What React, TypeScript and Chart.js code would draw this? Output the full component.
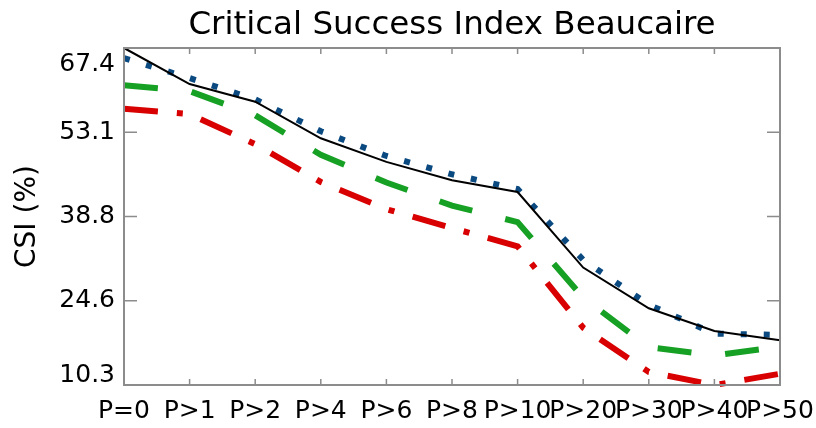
import React, { useEffect, useRef } from "react";
import { Chart, registerables } from "chart.js";

Chart.register(...registerables);

const categories = ["P=0", "P>1", "P>2", "P>4", "P>6", "P>8", "P>10", "P>20", "P>30", "P>40", "P>50"];
const seriesBlack = [67.4, 61.3, 58.3, 52.1, 48.1, 45.0, 43.0, 30.2, 23.3, 19.45, 17.9];
const seriesBlue = [65.7, 62.3, 58.7, 53.3, 49.1, 46.0, 43.5, 31.5, 23.9, 19.0, 18.8];
const seriesGreen = [61.1, 60.1, 56.0, 49.3, 44.6, 40.7, 37.9, 25.1, 16.7, 15.3, 16.8];
const seriesRed = [57.1, 56.2, 51.1, 44.7, 40.1, 36.9, 33.8, 20.0, 12.5, 10.3, 12.2];
const yTickValues = [10.3, 24.575, 38.85, 53.125, 67.4];
const yTickLabels = ["10.3", "24.6", "38.8", "53.1", "67.4"];
const yMin = 10.3;
const yMax = 67.4;
const titleText = "Critical Success Index Beaucaire";
const yTitleText = "CSI (%)";

const FONT = "DejaVu Sans";
const AXIS_COLOR = "#8c8c8c";

const framePlugin = {
  id: "frame",
  beforeDraw(chart: any) {
    const ys = chart.scales.y;
    const items = ys.getLabelItems();
    items.forEach((it: any) => {
      if (it._shifted) return;
      if (it.label === yTickLabels[yTickLabels.length - 1]) it.options.translation[1] += 16;
      if (it.label === yTickLabels[0]) it.options.translation[1] -= 10;
      it._shifted = true;
    });
  },
  afterDraw(chart: any) {
    const { ctx, chartArea: a } = chart;
    const xs = chart.scales.x;
    const ys = chart.scales.y;
    ctx.save();
    ctx.strokeStyle = AXIS_COLOR;
    ctx.lineWidth = 2;
    ctx.strokeRect(a.left, a.top, a.right - a.left, a.bottom - a.top);
    ctx.lineWidth = 1.5;
    ctx.beginPath();
    ys.ticks.forEach((_t: any, i: number) => {
      const py = ys.getPixelForTick(i);
      ctx.moveTo(a.left, py);
      ctx.lineTo(a.left + 13, py);
      ctx.moveTo(a.right, py);
      ctx.lineTo(a.right - 13, py);
    });
    xs.ticks.forEach((_t: any, i: number) => {
      const px = xs.getPixelForTick(i);
      ctx.moveTo(px, a.bottom);
      ctx.lineTo(px, a.bottom - 6);
      ctx.moveTo(px, a.top);
      ctx.lineTo(px, a.top + 6);
    });
    ctx.stroke();
    ctx.restore();
  },
};

export default function App() {
  const ref = useRef<HTMLCanvasElement | null>(null);

  useEffect(() => {
    if (!ref.current) return;
    const chart = new Chart(ref.current, {
      type: "line",
      data: {
        labels: categories,
        datasets: [
          {
            label: "black",
            data: seriesBlack,
            borderColor: "#000000",
            borderWidth: 2,
            pointRadius: 0,
            tension: 0,
            order: 0,
          },
          {
            label: "blue",
            data: seriesBlue,
            borderColor: "#0b4a80",
            borderWidth: 6,
            borderDash: [6, 17],
            pointRadius: 0,
            tension: 0,
            order: 1,
          },
          {
            label: "green",
            data: seriesGreen,
            borderColor: "#16a024",
            borderWidth: 6,
            borderDash: [34, 34],
            pointRadius: 0,
            tension: 0,
            order: 2,
          },
          {
            label: "red",
            data: seriesRed,
            borderColor: "#d80000",
            borderWidth: 6,
            borderDash: [34, 19, 6, 19],
            pointRadius: 0,
            tension: 0,
            order: 3,
          },
        ] as any,
      },
      options: {
        animation: false,
        responsive: false,
        devicePixelRatio: 1,
        events: [],
        clip: false as any,
        layout: { padding: { left: 0, right: 36, top: 0, bottom: 0 } },
        plugins: {
          legend: { display: false },
          tooltip: { enabled: false },
          title: {
            display: true,
            text: titleText,
            fullSize: false,
            color: "#000",
            font: { family: FONT, size: 32.5, weight: "normal" as any },
            padding: { top: 6, bottom: 3 },
          },
        },
        scales: {
          x: {
            type: "category",
            offset: false,
            grid: { display: false, drawTicks: false },
            border: { display: false },
            ticks: {
              color: "#000",
              font: { family: FONT, size: 25 },
              padding: 11,
              maxRotation: 0,
              autoSkip: false,
            },
            afterFit: (s: any) => {
              s.height = 43;
              s.paddingLeft = 0;
              s.paddingRight = 0;
            },
          },
          y: {
            type: "linear",
            min: yMin,
            max: yMax,
            grid: { display: false, drawTicks: false },
            border: { display: false },
            afterBuildTicks: (s: any) => {
              s.ticks = yTickValues.map((v) => ({ value: v }));
            },
            ticks: {
              color: "#000",
              font: { family: FONT, size: 25 },
              padding: 9,
              callback: (_v: any, i: number) => yTickLabels[i],
            },
            title: {
              display: true,
              text: yTitleText,
              color: "#000",
              font: { family: FONT, size: 28 },
              padding: { top: 11, bottom: 0 },
            },
            afterFit: (s: any) => {
              s.width = 124;
              s.paddingTop = 0;
              s.paddingBottom = 0;
            },
          },
        },
      },
      plugins: [framePlugin],
    });
    return () => chart.destroy();
  }, []);

  return (
    <div style={{ position: "fixed", left: 0, top: 0, width: 816, height: 428, background: "#fff" }}>
      <canvas ref={ref} width={816} height={428} style={{ width: 816, height: 428 }} />
    </div>
  );
}
